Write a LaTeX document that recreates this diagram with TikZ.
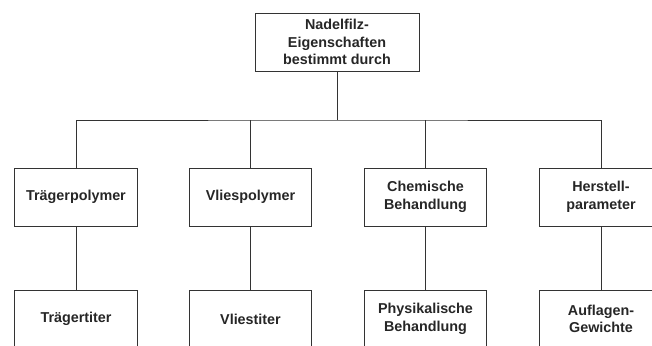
\documentclass[tikz,border=0pt]{standalone}
\usepackage{fontspec}
\setmainfont{Liberation Sans}
\begin{document}
\begin{tikzpicture}
  [x=0.025cm, y=-0.025cm]
  \tikzstyle{box} = [draw=black!80, line width=0.6pt, align=center, inner sep=0pt,
                     minimum height=1.45cm, text=black!85,
                     font=\fontsize{10.2}{12.5}\selectfont\bfseries];
  \tikzstyle{top_box}  = [box, minimum width=4.1cm];
  \tikzstyle{item_box} = [box, minimum width=3.06cm];
  \tikzstyle{link} = [draw=black!80, line width=0.6pt];

  \clip (0, 0) rectangle (652, 345);

  \node[top_box] (eigen) at (337, 42) {Nadelfilz-\\Eigenschaften\\bestimmt durch};

  \node[item_box] (traegerpoly) at (76, 197)  {Trägerpolymer};
  \node[item_box] (vliespoly)   at (250.5, 197) {Vliespolymer};
  \node[item_box] (chemie)      at (425.5, 197) {Chemische\\Behandlung};
  \node[item_box] (herstell)    at (601, 197) {Herstell-\\parameter};

  \node[item_box] (traegertiter) at (76, 319)  {Trägertiter};
  \node[item_box] (vliestiter)   at (250.5, 319) {Vliestiter};
  \node[item_box] (physik)       at (425.5, 319) {Physikalische\\Behandlung};
  \node[item_box] (auflage)      at (601, 319) {Auflagen-\\Gewichte};

  \coordinate (bus) at (337, 120);

  \draw[link] (eigen.south) -- (bus);
  \draw[link] (traegerpoly.north) |- (bus) -| (herstell.north);
  \draw[link] (vliespoly.north) -- (vliespoly.north |- bus);
  \draw[link] (chemie.north) -- (chemie.north |- bus);

  \draw[link] (traegerpoly) -- (traegertiter);
  \draw[link] (vliespoly) -- (vliestiter);
  \draw[link] (chemie) -- (physik);
  \draw[link] (herstell) -- (auflage);

\end{tikzpicture}
\end{document}
